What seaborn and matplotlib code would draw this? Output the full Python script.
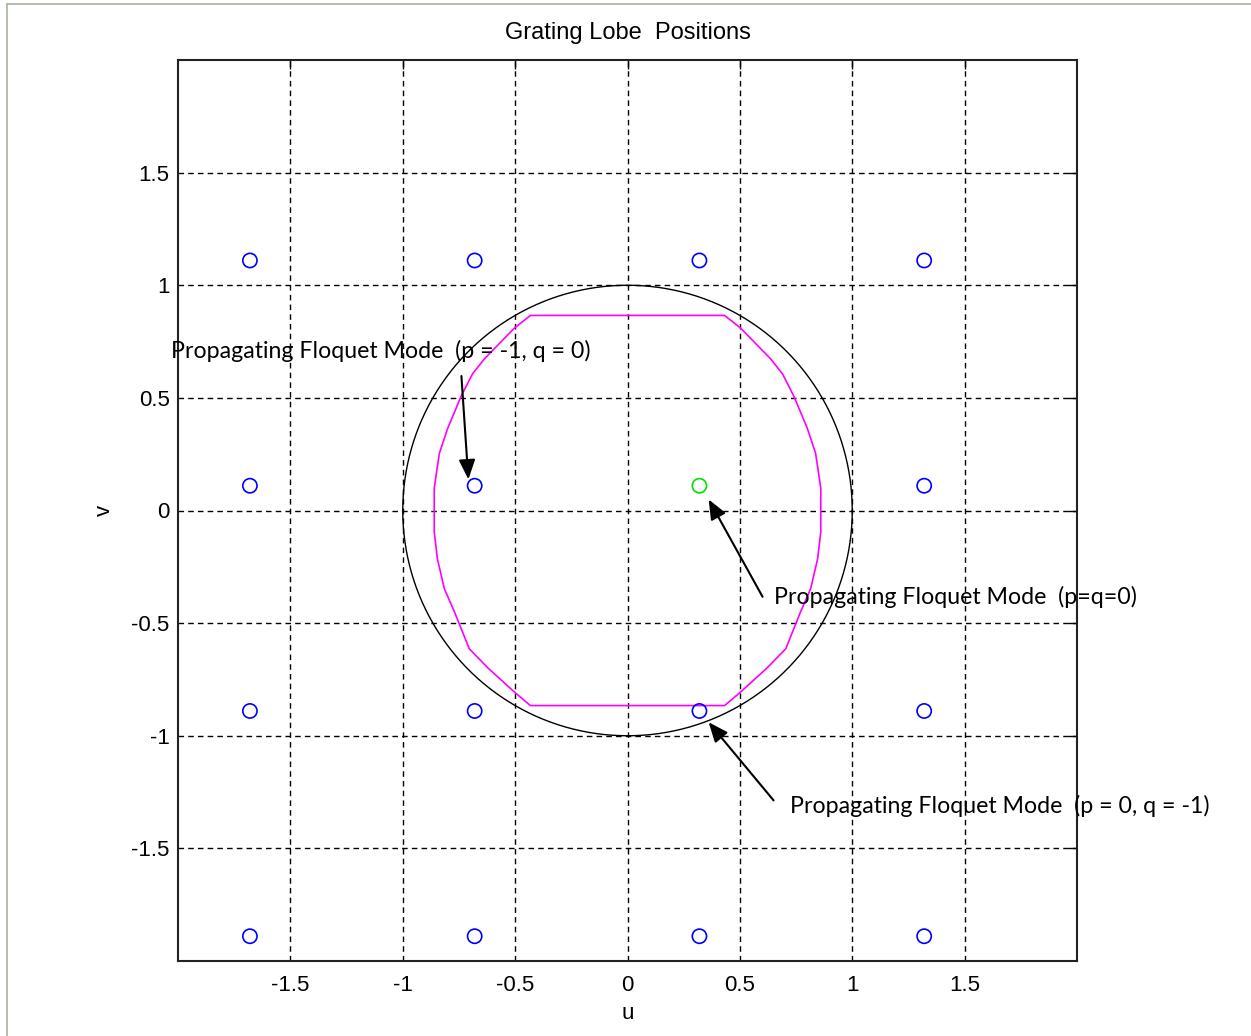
import numpy as np
import pandas as pd
import matplotlib
matplotlib.use("Agg")
import matplotlib.pyplot as plt
from matplotlib.lines import Line2D
import seaborn as sns

# Grating lobe lattice (u, v direction cosines)
lobe_u = [-1.68, -0.68, 0.32, 1.32]
lobe_v = [1.11, 0.11, -0.89, -1.89]
main_lobe = (0.32, 0.11)

# Scan-region outline, right half (u, v), traced top to bottom; symmetric about u = 0
scan_u_right = [0.00, 0.432, 0.503, 0.637, 0.690, 0.740, 0.800, 0.837, 0.851, 0.860,
                0.860, 0.846, 0.815, 0.770, 0.704, 0.620, 0.503, 0.432, 0.00]
scan_v_right = [0.866, 0.866, 0.810, 0.673, 0.606, 0.508, 0.365, 0.254, 0.160, 0.098,
                -0.094, -0.214, -0.347, -0.450, -0.614, -0.700, -0.806, -0.866, -0.866]

ticks = [-1.5, -1, -0.5, 0, 0.5, 1, 1.5]
tick_labels = ["-1.5", "-1", "-0.5", "0", "0.5", "1", "1.5"]

labels = ["Propagating Floquet Mode  (p = -1, q = 0)",
          "Propagating Floquet Mode  (p=q=0)",
          "Propagating Floquet Mode  (p = 0, q = -1)"]
label_pos = [(-2.031, 0.708), (0.650, -0.383), (0.722, -1.310)]
arrow_tail = [(-0.739, 0.597), (0.601, -0.383), (0.650, -1.287)]
arrow_tip = [(-0.708, 0.138), (0.361, 0.049), (0.361, -0.940)]

sns.set_style("white")
plt.rcParams["font.family"] = ["Liberation Sans", "DejaVu Sans"]
plt.rcParams["text.color"] = "black"
plt.rcParams["axes.labelcolor"] = "black"

W, H = 1251, 1036
fig = plt.figure(figsize=(W / 100, H / 100), dpi=100)
ax = fig.add_axes([178 / W, 1 - 961 / H, 899 / W, 901 / H])

# Lattice of grating lobes
lat = pd.DataFrame([(u, v) for v in lobe_v for u in lobe_u], columns=["u", "v"])
lat = lat[~((np.isclose(lat.u, main_lobe[0])) & (np.isclose(lat.v, main_lobe[1])))]
sns.scatterplot(data=lat, x="u", y="v", ax=ax, marker="o", s=105,
                facecolors="none", edgecolor="#0000FF", linewidth=1.2, zorder=4)
sns.scatterplot(x=[main_lobe[0]], y=[main_lobe[1]], ax=ax, marker="o", s=105,
                facecolors="none", edgecolor="#00E000", linewidth=1.2, zorder=4)

# Visible-space boundary (unit circle)
theta = np.linspace(0, 2 * np.pi, 361)
circ = pd.DataFrame({"u": np.cos(theta), "v": np.sin(theta)})
sns.lineplot(data=circ, x="u", y="v", sort=False, estimator=None, ax=ax,
             color="black", linewidth=1.0, zorder=3)

# Scan region outline
su = scan_u_right + [-u for u in scan_u_right[::-1]]
sv = scan_v_right + scan_v_right[::-1]
scan = pd.DataFrame({"u": su, "v": sv})
sns.lineplot(data=scan, x="u", y="v", sort=False, estimator=None, ax=ax,
             color="#FF00FF", linewidth=1.2, zorder=3)

ax.set_xlim(-2, 2)
ax.set_ylim(-2, 2)
ax.set_xticks(ticks)
ax.set_xticklabels(tick_labels)
ax.set_yticks(ticks)
ax.set_yticklabels(tick_labels)
ax.tick_params(direction="in", length=6.5, width=1.0, top=True, right=True,
               labelsize=16, colors="black")
ax.tick_params(axis="x", pad=10)
ax.tick_params(axis="y", pad=6)
ax.grid(True, color="black", linestyle=(0, (4, 3)), linewidth=1.0)
for sp in ax.spines.values():
    sp.set_color("#222222")
    sp.set_linewidth(1.5)

ax.set_title("Grating Lobe  Positions", fontsize=17, pad=15)
ax.set_xlabel("u", fontsize=16, labelpad=5)
ax.set_ylabel("v", fontsize=16, labelpad=12)

for txt, (x, y), tail, tip in zip(labels, label_pos, arrow_tail, arrow_tip):
    ax.annotate("", xy=tip, xytext=tail,
                arrowprops=dict(arrowstyle="-|>,head_length=0.6,head_width=0.25",
                                mutation_scale=20, color="black", lw=1.5,
                                shrinkA=0, shrinkB=0), zorder=5)
    ax.text(x, y, txt, ha="left", va="center", fontsize=16.7,
            family=["Lato", "DejaVu Sans"], clip_on=False, zorder=6)

# Window frame
frame_col = "#A6B39C"
fig.add_artist(Line2D([6.5 / W, 6.5 / W], [0, 1 - 3.5 / H], transform=fig.transFigure,
                      color=frame_col, lw=1.2))
fig.add_artist(Line2D([6.5 / W, 1], [1 - 3.5 / H, 1 - 3.5 / H], transform=fig.transFigure,
                      color=frame_col, lw=1.2))

fig.savefig("out.png", dpi=100)
